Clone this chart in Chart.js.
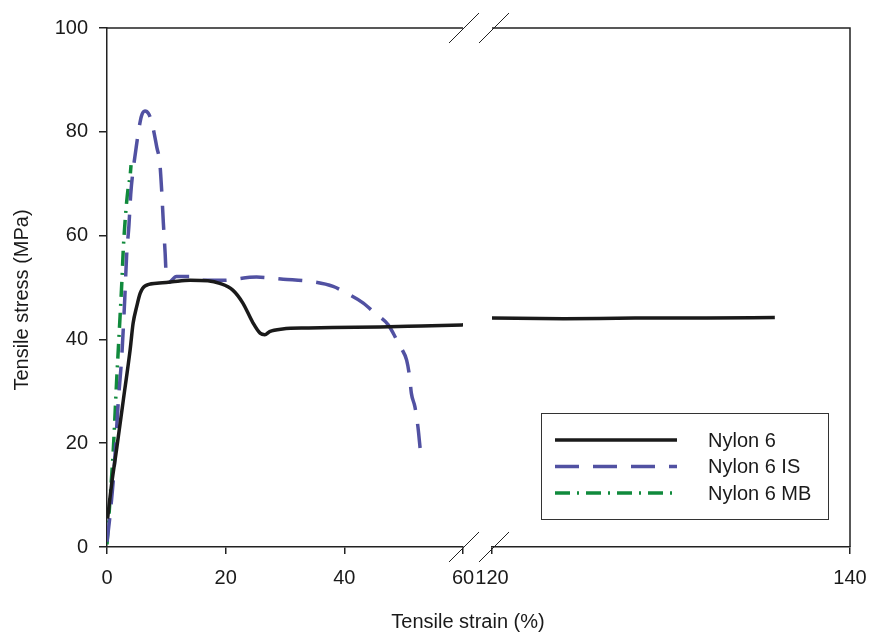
<!DOCTYPE html>
<html>
<head>
<meta charset="utf-8">
<script src="https://cdn.jsdelivr.net/npm/chart.js@4.4.1/dist/chart.umd.min.js"></script>
<style>
  html, body { margin: 0; padding: 0; background: #fff; }
  #wrap { width: 870px; height: 634px; }
</style>
</head>
<body>
<div id="wrap"><canvas id="tensile"></canvas></div>
<script>
// Nylon 6, low-strain part (0-60 %)
var n6Strain = [0.1, 0.8, 1.6, 2.75, 3.9, 4.4, 5.0, 5.6, 6.4, 8.4, 11, 14, 17, 19, 21.2, 22.9, 24.6, 25.8, 26.6, 27.4, 29.6, 34, 38, 46, 53, 60];
var n6Stress = [5.5, 12.3, 18.7, 28.3, 38, 43.1, 46.3, 48.9, 50.3, 50.8, 51.1, 51.4, 51.3, 50.8, 49.5, 47, 43.2, 41.2, 40.9, 41.5, 42, 42.2, 42.3, 42.4, 42.6, 42.8];
// Nylon 6, after the axis break (120-140 %)
var n6StrainHi = [120, 124, 128, 132, 135.8];
var n6StressHi = [44.1, 44.0, 44.1, 44.1, 44.2];

// Nylon 6 IS
var isStrain = [0, 0.5, 1.2, 1.9, 2.5, 3.0, 3.3, 3.7, 4.0, 4.4, 4.8, 5.3, 5.8, 6.4, 7.0, 7.5, 7.9, 8.4, 8.9, 9.2, 9.5, 9.8, 10.0, 10.4, 11.7, 14, 16.2, 19.6, 25.2, 29.7, 34.7, 38.1, 40.4, 43.2, 45.2, 47.4, 48.8, 49.6, 50.5, 51.0, 51.3, 51.9, 52.4, 52.8];
var isStress = [1, 6, 15, 28, 37, 48, 56, 62, 68, 72.6, 76, 80, 83, 84, 83.5, 82, 80, 77, 74, 69, 62.4, 56.6, 52, 51, 52.1, 52.1, 51.4, 51.4, 52.0, 51.6, 51.1, 50.2, 48.9, 47, 45, 42.8, 40, 38.3, 36, 32.8, 29.6, 27, 23.2, 18.7];

// Nylon 6 MB
var mbStrain = [0, 0.5, 1.06, 1.6, 2.2, 2.5, 2.75, 3.2, 3.6, 3.9, 4.05];
var mbStress = [0.5, 9, 18.7, 31.5, 44.4, 51, 57.5, 65, 69.5, 71.5, 73.6];

var yTicks = [0, 20, 40, 60, 80, 100];

var FONT = '"Liberation Sans", Arial, Helvetica, sans-serif';
var INK = '#1a1a1a';
var BLUE = '#5151a2';
var GREEN = '#108a3c';
var DASH_IS = [24, 14];
var DASH_MB = [15, 7, 2, 7];

function pts(xs, ys) {
    return xs.map(function (x, i) { return { x: x, y: ys[i] }; });
}

var series = [
    { label: 'Nylon 6', color: INK, dash: [] },
    { label: 'Nylon 6 IS', color: BLUE, dash: DASH_IS },
    { label: 'Nylon 6 MB', color: GREEN, dash: DASH_MB }
];

// frame, axis break marks, titles and the boxed legend
var frame = {
    id: 'frame',
    afterDraw: function (chart) {
        var ctx = chart.ctx, a = chart.chartArea;
        var lo = chart.scales.xLow, hi = chart.scales.xHigh;
        ctx.save();
        ctx.strokeStyle = '#222';
        ctx.lineWidth = 1.5;
        ctx.beginPath();
        ctx.moveTo(lo.left, a.top); ctx.lineTo(lo.right, a.top);
        ctx.moveTo(hi.left, a.top); ctx.lineTo(hi.right, a.top); ctx.lineTo(hi.right, a.bottom);
        ctx.stroke();

        ctx.lineWidth = 1;
        ctx.beginPath();
        [a.top, a.bottom].forEach(function (y) {
            [lo.right + 1, hi.left + 2].forEach(function (x) {
                ctx.moveTo(x - 15, y + 15);
                ctx.lineTo(x + 15, y - 15);
            });
        });
        ctx.stroke();

        ctx.fillStyle = INK;
        ctx.font = '20px ' + FONT;
        ctx.textAlign = 'center';
        ctx.textBaseline = 'middle';
        ctx.fillText('Tensile strain (%)', 468, 622);
        ctx.save();
        ctx.translate(22, 300);
        ctx.rotate(-Math.PI / 2);
        ctx.fillText('Tensile stress (MPa)', 0, 0);
        ctx.restore();

        // legend
        ctx.strokeStyle = '#333';
        ctx.lineWidth = 1;
        ctx.strokeRect(541.5, 413.5, 287, 106);
        ctx.textAlign = 'left';
        series.forEach(function (s, i) {
            var y = 440 + i * 26.5;
            ctx.strokeStyle = s.color;
            ctx.lineWidth = 3.5;
            ctx.setLineDash(s.dash);
            ctx.beginPath();
            ctx.moveTo(555, y);
            ctx.lineTo(677, y);
            ctx.stroke();
            ctx.setLineDash([]);
            ctx.fillText(s.label, 708, y + 1);
        });
        ctx.restore();
    }
};

function xAxis(min, max, weight, shown) {
    return {
        type: 'linear',
        position: 'bottom',
        stack: 'strain',
        stackWeight: weight,
        display: shown,
        min: min,
        max: max,
        afterFit: function (s) {
            s.height = 87;
            s.paddingLeft = 0;
            s.paddingRight = 0;
        },
        border: { display: true, color: '#222', width: 1.5 },
        grid: { drawOnChartArea: false, tickLength: 7, color: '#222', lineWidth: 1.5 },
        ticks: { stepSize: 20, color: INK, padding: 12, maxRotation: 0, font: { size: 20, family: FONT } }
    };
}

var ctx = document.getElementById('tensile').getContext('2d');
var chart = new Chart(ctx, {
    type: 'line',
    data: {
        datasets: [{
            label: 'Nylon 6',
            xAxisID: 'xLow',
            data: pts(n6Strain, n6Stress),
            borderColor: INK,
            borderWidth: 3.5
        }, {
            label: 'Nylon 6',
            xAxisID: 'xHigh',
            data: pts(n6StrainHi, n6StressHi),
            borderColor: INK,
            borderWidth: 3.5
        }, {
            label: 'Nylon 6 IS',
            xAxisID: 'xLow',
            data: pts(isStrain, isStress),
            borderColor: BLUE,
            borderWidth: 3.5,
            borderDash: DASH_IS
        }, {
            label: 'Nylon 6 MB',
            xAxisID: 'xLow',
            data: pts(mbStrain, mbStress),
            borderColor: GREEN,
            borderWidth: 3.5,
            borderDash: DASH_MB
        }]
    },
    options: {
        responsive: true,
        maintainAspectRatio: false,
        animation: false,
        layout: { padding: { top: 28, right: 20, left: 0, bottom: 0 } },
        elements: {
            point: { radius: 0 },
            line: { cubicInterpolationMode: 'monotone', fill: false }
        },
        plugins: {
            legend: { display: false },
            tooltip: { enabled: false }
        },
        scales: {
            xLow: xAxis(0, 60, 356, true),
            xGap: xAxis(60, 61, 29, false),
            xHigh: xAxis(120, 140, 358, true),
            y: {
                type: 'linear',
                position: 'left',
                min: 0,
                max: 100,
                afterFit: function (s) { s.width = 107; },
                afterBuildTicks: function (s) {
                    s.ticks = yTicks.map(function (v) { return { value: v }; });
                },
                border: { display: true, color: '#222', width: 1.5 },
                grid: { drawOnChartArea: false, tickLength: 8, color: '#222', lineWidth: 1.5 },
                ticks: { color: INK, padding: 11, font: { size: 20, family: FONT } }
            }
        }
    },
    plugins: [frame]
});
</script>
</body>
</html>
